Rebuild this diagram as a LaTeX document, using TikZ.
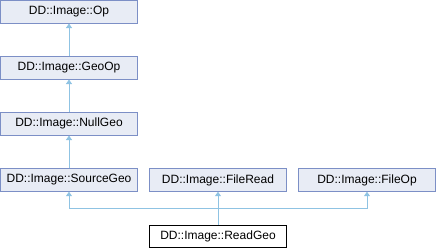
\documentclass[tikz,border=0pt]{standalone}
\usepackage{fontspec}
\setmainfont{Liberation Sans}
\usetikzlibrary{arrows.meta}
\definecolor{boxfill}{HTML}{E8ECF5}
\definecolor{boxdraw}{HTML}{7C8FC6}
\definecolor{edge}{HTML}{8FC3E3}
\begin{document}
\begin{tikzpicture}[x=1bp,y=-1bp,
  cls/.style={draw=boxdraw,fill=boxfill,line width=0.9bp,minimum width=137bp,minimum height=22.5bp,inner sep=0pt,font=\fontsize{12bp}{14bp}\selectfont},
  cur/.style={cls,draw=black,fill=white},
  inh/.style={draw=edge,line width=0.9bp,-{Triangle[length=4.5bp,width=6bp]}}]
\useasboundingbox (0,0) rectangle (437,248);
\node[cls] (op) at (69,11.8) {DD::Image::Op};
\node[cls] (geo) at (69,67.8) {DD::Image::GeoOp};
\node[cls] (null) at (69,123.8) {DD::Image::NullGeo};
\node[cls] (src) at (69,180) {DD::Image::SourceGeo};
\node[cls] (fr) at (218,180) {DD::Image::FileRead};
\node[cls] (fo) at (367,180) {DD::Image::FileOp};
\node[cur] (rg) at (218,236.5) {DD::Image::ReadGeo};
\coordinate (j) at (218,208);
\draw[inh] (geo) -- (op);
\draw[inh] (null) -- (geo);
\draw[inh] (src) -- (null);
\draw[inh] (rg.north) -- (j) -| (src.south);
\draw[inh] (rg.north) -- (fr.south);
\draw[inh] (rg.north) -- (j) -| (fo.south);
\end{tikzpicture}
\end{document}
